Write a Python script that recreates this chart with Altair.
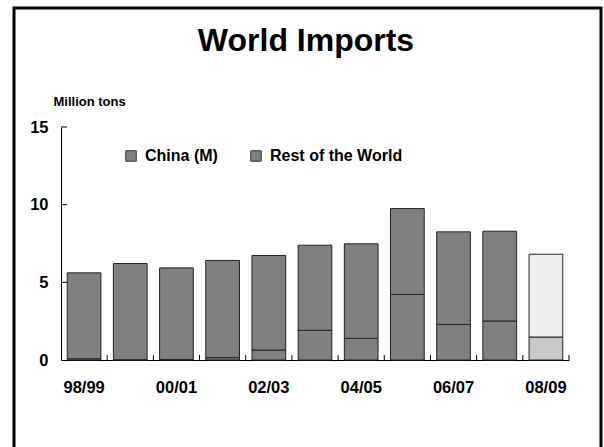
import altair as alt
import pandas as pd

# Marketing years and import volumes (million tons)
seasons = ["98/99", "99/00", "00/01", "01/02", "02/03", "03/04",
           "04/05", "05/06", "06/07", "07/08", "08/09"]
china = [0.08, 0.02, 0.03, 0.15, 0.64, 1.91, 1.39, 4.22, 2.29, 2.51, 1.48]
world_total = [5.61, 6.21, 5.93, 6.41, 6.73, 7.39, 7.48, 9.75, 8.25, 8.29, 6.81]
shown_years = ["98/99", "00/01", "02/03", "04/05", "06/07", "08/09"]
y_ticks = [5, 10, 15]

FONT = "Liberation Sans"
W, H = 508, 233

rows = []
for i, s in enumerate(seasons):
    projected = s == "08/09"
    rows.append({"season": s, "part": "China (est)" if projected else "China (M)",
                 "value": china[i], "rank": 0})
    rows.append({"season": s, "part": "Rest (est)" if projected else "Rest of the World",
                 "value": round(world_total[i] - china[i], 2), "rank": 1})
df = pd.DataFrame(rows)

x_scale = alt.Scale(domain=seasons, paddingInner=0, paddingOuter=0)
y_scale = alt.Scale(domain=[0, 15])

bars = alt.Chart(df).mark_bar(
    width=alt.RelativeBandSize(0.73), stroke="#222222", strokeWidth=1
).encode(
    x=alt.X("season:N", scale=x_scale, sort=seasons,
            axis=alt.Axis(values=shown_years, labelAngle=0, ticks=False,
                          domainColor="black", domainWidth=1,
                          labelFont=FONT, labelFontSize=16.5, labelFontWeight="bold",
                          labelColor="black", labelPadding=19, title=None)),
    y=alt.Y("value:Q", stack="zero", scale=y_scale,
            axis=alt.Axis(values=[0, 5, 10, 15], ticks=False, grid=False,
                          domainColor="black", domainWidth=1,
                          labelFont=FONT, labelFontSize=16.5, labelFontWeight="bold",
                          labelColor="black", labelPadding=13,
                          title="Million tons", titleAngle=0, titleAlign="left",
                          titleBaseline="alphabetic", titleX=-8, titleY=-22,
                          titleFont=FONT, titleFontSize=13, titleFontWeight="bold",
                          titleColor="black")),
    fill=alt.Fill("part:N",
                  scale=alt.Scale(domain=["China (M)", "Rest of the World",
                                          "China (est)", "Rest (est)"],
                                  range=["#808080", "#808080", "#c8c8c8", "#efefef"]),
                  legend=alt.Legend(values=["China (M)", "Rest of the World"],
                                    title=None, orient="none", direction="horizontal",
                                    legendX=62, legendY=21,
                                    symbolType="square", symbolSize=110,
                                    symbolStrokeColor="#333333", symbolStrokeWidth=1,
                                    labelFont=FONT, labelFontSize=16,
                                    labelFontWeight="bold", labelColor="black",
                                    labelOffset=6, columnPadding=30)),
    order=alt.Order("rank:Q"),
)

# Inward tick marks on the category axis, at the boundaries between bars
x_ticks = alt.Chart(df[df["rank"] == 0]).mark_rule(color="black", strokeWidth=1).encode(
    x=alt.X("season:N", scale=x_scale, sort=seasons, bandPosition=1),
    y=alt.value(H),
    y2=alt.value(H - 5),
)

# Inward tick marks on the value axis
y_tick_marks = alt.Chart(pd.DataFrame({"v": y_ticks})).mark_rule(
    color="black", strokeWidth=1
).encode(
    y=alt.Y("v:Q", scale=y_scale),
    x=alt.value(0),
    x2=alt.value(6),
)

# Slide frame
frame = alt.Chart(pd.DataFrame({"v": [0]})).mark_rect(
    fill=None, stroke="black", strokeWidth=3, clip=False
).encode(
    x=alt.value(-47), x2=alt.value(540),
    y=alt.value(-119), y2=alt.value(H + 120),
)

# Slide heading
heading = alt.Chart(pd.DataFrame({"v": [0]})).mark_text(
    font=FONT, fontSize=32, fontWeight="bold", color="black",
    align="center", baseline="alphabetic"
).encode(
    x=alt.value(W / 2 - 9), y=alt.value(-76), text=alt.value("World Imports"),
)

chart = alt.layer(frame, heading, bars, x_ticks, y_tick_marks).properties(
    width=W, height=H,
    padding={"left": 61, "top": 127, "right": 35, "bottom": 87},
    autosize=alt.AutoSizeParams(type="none"),
).configure(background="white", view=alt.ViewConfig(stroke=None))

chart.save("out.html", embed_options={"renderer": "svg", "actions": False})
